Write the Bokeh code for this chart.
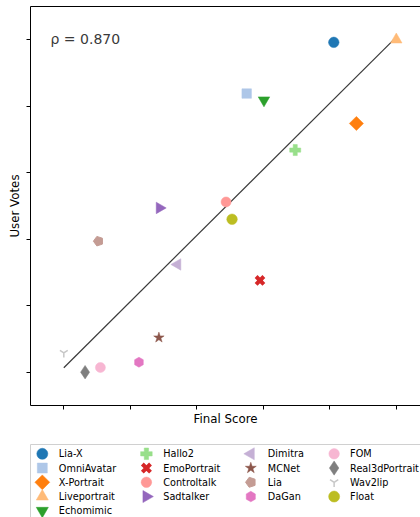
import numpy as np
from bokeh.plotting import figure
from bokeh.layouts import column
from bokeh.models import LinearAxis, Label, FixedTicker, Range1d
from bokeh.core.properties import value
from bokeh.embed import file_html
from bokeh.resources import INLINE

# ---- data ----
methods = ["Lia-X", "OmniAvatar", "X-Portrait", "Liveportrait", "Echomimic",
           "Hallo2", "EmoPortrait", "Controltalk", "Sadtalker",
           "Dimitra", "MCNet", "Lia", "DaGan",
           "FOM", "Real3dPortrait", "Wav2lip", "Float"]
final_score = [4.06, 2.75, 4.40, 5.00, 3.01, 3.48, 2.95, 2.44, 1.44,
               1.71, 1.43, 0.52, 1.13, 0.55, 0.32, 0.00, 2.53]
user_votes = [4.96, 4.19, 3.74, 5.00, 4.09, 3.34, 1.38, 2.56, 2.47,
              1.62, 0.52, 1.97, 0.15, 0.07, 0.00, 0.29, 2.30]
rho = 0.870
x_ticks = [0, 1, 2, 3, 4, 5]
y_ticks = [0, 1, 2, 3, 4, 5]
legend_columns = [5, 4, 4, 4]

# ---- styles ----
colors = ["#1f77b4", "#aec7e8", "#ff7f0e", "#ffbb78", "#2ca02c",
          "#98df8a", "#d62728", "#ff9896", "#9467bd",
          "#c5b0d5", "#8c564b", "#c49c94", "#e377c2",
          "#f7b6d2", "#7f7f7f", "#c7c7c7", "#bcbd22"]
markers = ["circle", "square", "square", "triangle", "inverted_triangle",
           "plus", "x", "circle", "triangle",
           "triangle", "star", "ngon", "hex",
           "circle", "diamond", "y", "circle"]
angles = [0, 0, np.pi / 4, 0, 0,
          0, 0, 0, -np.pi / 2,
          np.pi / 2, 0, np.pi / 2, np.pi / 6,
          0, 0, 0, 0]
sizes = [10.5, 9.5, 10, 11.5, 11.5,
         11, 11, 10, 11.5,
         11.5, 11, 10, 10,
         10, 13.5, 9, 10.5]

FONT = "DejaVu Sans"


def add_marker(fig, i, xs, ys, scale=1.0):
    m = markers[i]
    s = sizes[i] * scale
    if m == "ngon":
        return fig.ngon(x=xs, y=ys, radius=s / 2, radius_units="screen", n=5,
                        angle=angles[i], fill_color=colors[i], line_color=colors[i])
    if m in ("x", "y"):
        lw = 4 if m == "x" else 1.5
        return fig.scatter(x=xs, y=ys, marker=m, size=s, angle=angles[i],
                           line_color=colors[i], line_width=lw)
    return fig.scatter(x=xs, y=ys, marker=m, size=s, angle=angles[i],
                       fill_color=colors[i], line_color=colors[i], line_width=0.5)


# ---- main plot ----
p = figure(width=420, height=443, output_backend="svg", toolbar_location=None,
           x_range=Range1d(-0.501, 5.364), y_range=Range1d(-0.501, 5.499),
           min_border_left=30, min_border_right=0, min_border_top=6, min_border_bottom=38)
p.grid.visible = False
p.outline_line_color = None
p.background_fill_color = "white"

top_axis = LinearAxis(ticker=FixedTicker(ticks=[]), major_tick_line_color=None,
                      minor_tick_line_color=None, major_label_text_font_size="0px",
                      major_label_standoff=0, axis_line_color="black")
p.add_layout(top_axis, "above")

bottom_axis = p.below[0]
left_axis = p.left[0]
for ax, ticks, lab, so in ((bottom_axis, x_ticks, "Final Score", 2),
                           (left_axis, y_ticks, "User Votes", 5)):
    ax.ticker = FixedTicker(ticks=ticks)
    ax.major_label_overrides = {t: "" for t in ticks}
    ax.major_label_text_font_size = "0px"
    ax.major_label_standoff = 0
    ax.major_tick_out = 4
    ax.major_tick_in = 0
    ax.minor_tick_line_color = None
    ax.axis_line_color = "black"
    ax.major_tick_line_color = "black"
    ax.axis_label = lab
    ax.axis_label_text_font = FONT
    ax.axis_label_text_font_size = "11.8px"
    ax.axis_label_text_font_style = "normal"
    ax.axis_label_text_color = "black"
    ax.axis_label_standoff = so

coef = np.polyfit(final_score, user_votes, 1)
fx = np.array([min(final_score), max(final_score)])
p.line(fx, np.polyval(coef, fx), line_color="#3a3a3a", line_width=1.2)

for i in range(len(methods)):
    add_marker(p, i, [final_score[i]], [user_votes[i]])

p.add_layout(Label(x=-0.2, y=5.013, text=f"ρ = {rho:.3f}", text_font=FONT,
                   text_font_size="14px", text_color="#3a3a3a",
                   text_baseline="alphabetic", text_align="left"))

# ---- legend panel (drawn below the plot, page-pixel coordinates) ----
LG_TOP, LG_BOTTOM, LG_LEFT, LG_RIGHT = 444, 517, 24, 420
lg = figure(width=420, height=74, output_backend="svg", toolbar_location=None,
            x_range=Range1d(LG_LEFT, LG_RIGHT), y_range=Range1d(LG_BOTTOM, LG_TOP),
            x_axis_location="above", y_axis_location="left",
            min_border_left=LG_LEFT, min_border_right=0, min_border_top=1, min_border_bottom=0)
lg.grid.visible = False
lg.outline_line_color = None
for ax in (lg.above[0], lg.left[0]):
    ax.ticker = FixedTicker(ticks=[])
    ax.major_tick_line_color = None
    ax.minor_tick_line_color = None
    ax.major_label_text_font_size = "0px"
    ax.major_label_standoff = 0
    ax.axis_line_color = "#d0d0d0"

col_marker_x = [36, 141.7, 247.7, 332.3]
col_label_x = [52.8, 158.8, 265.0, 348.5]
row_y0, row_step = 453.3, 14.25

idx = 0
lab_x, lab_y, lab_t = [], [], []
for c, n in enumerate(legend_columns):
    for r in range(n):
        y = row_y0 + r * row_step
        add_marker(lg, idx, [col_marker_x[c]], [y], scale=1.05)
        lab_x.append(col_label_x[c])
        lab_y.append(y)
        lab_t.append(methods[idx])
        idx += 1
lg.text(x=lab_x, y=lab_y, text=lab_t, text_font=value(FONT), text_font_size=value("9.7px"),
        text_color="black", text_baseline="middle", text_align="left")

layout = column(p, lg, spacing=0)
open("out.html", "w").write(file_html(layout, INLINE))
